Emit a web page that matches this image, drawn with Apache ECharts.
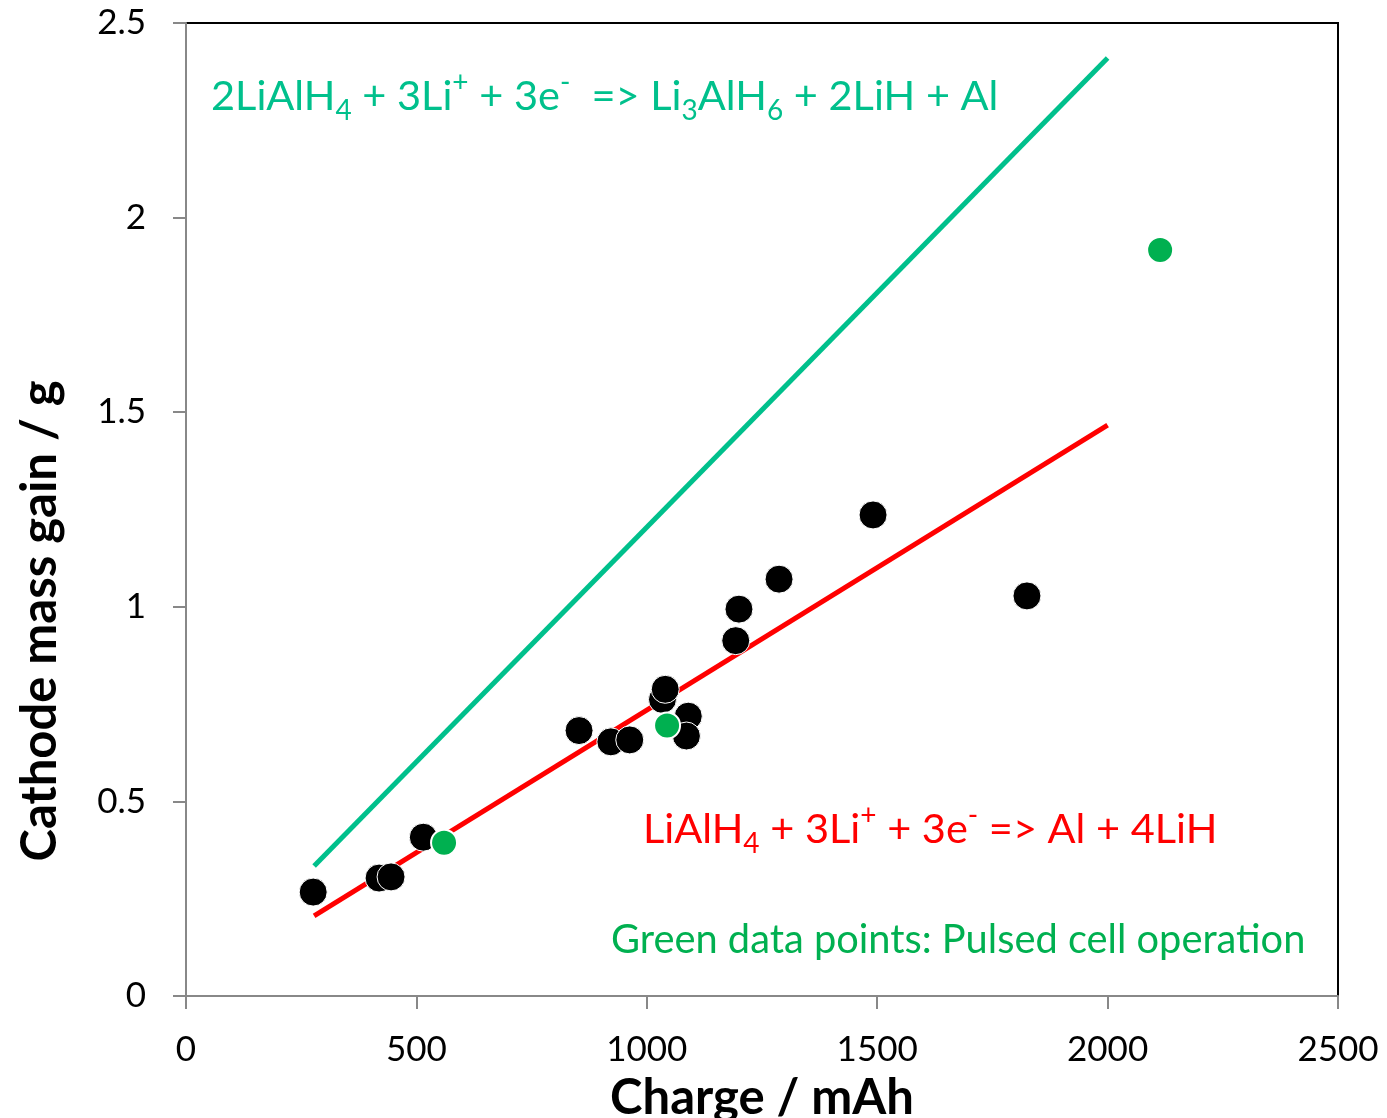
<!DOCTYPE html>
<html><head><meta charset="utf-8">
<script src="https://cdn.jsdelivr.net/npm/echarts@6/dist/echarts.min.js"></script>
<style>html,body{margin:0;padding:0;background:#fff}#c{width:1387px;height:1118px}</style>
</head><body><div id="c"></div>
<script>
// Data (Charge mAh, mass gain g)
const blackPoints = [
  [276, 0.267], [419, 0.303], [445, 0.306], [515, 0.408],
  [853, 0.682], [922, 0.653], [963, 0.658], [1034, 0.762], [1040, 0.788],
  [1090, 0.719], [1086, 0.668], [1193, 0.913], [1200, 0.994], [1287, 1.071],
  [1491, 1.236], [1825, 1.028]
];
const greenPoints = [[560, 0.394], [1044, 0.695], [2114, 1.917]];
const tealLine = [[278, 0.334], [2000, 2.41]];
const redLine = [[278, 0.206], [2000, 1.467]];
const xTicks = [0, 500, 1000, 1500, 2000, 2500];
const yTicks = [0, 0.5, 1, 1.5, 2, 2.5];

const TEAL = '#00C08C', RED = '#FF0000', GREEN = '#00B050';
const FONT = 'Lato';
function richFor(color, size) {
  return {
    n: {fontFamily: FONT, fontSize: size, fill: color, color, lineHeight: 56, verticalAlign: 'middle'},
    sub: {fontFamily: FONT, fontSize: 28, fill: color, color, lineHeight: 12, verticalAlign: 'bottom'},
    sup: {fontFamily: FONT, fontSize: 28, fill: color, color, lineHeight: 45, verticalAlign: 'top'}
  };
}
const chart = echarts.init(document.getElementById('c'));
chart.setOption({
  animation: false,
  backgroundColor: '#fff',
  grid: {left: 186, right: 49, top: 23, bottom: 122, show: true, borderColor: '#000', borderWidth: 2,
    containLabel: false, outerBoundsMode: 'none'},
  xAxis: {
    type: 'value', min: 0, max: 2500, interval: 500,
    name: 'Charge / mAh', nameLocation: 'middle', nameGap: 78,
    nameTextStyle: {fontFamily: FONT, fontWeight: 'bold', fontSize: 49, color: '#000'},
    axisLine: {show: true, lineStyle: {color: '#888', width: 2}},
    axisTick: {show: true, length: 13, lineStyle: {color: '#888', width: 2}},
    axisLabel: {margin: 36, fontFamily: FONT, fontSize: 35, color: '#000',
      formatter: v => xTicks.includes(v) ? String(v) : ''},
    splitLine: {show: false}
  },
  yAxis: {
    type: 'value', min: 0, max: 2.5, interval: 0.5,
    axisLine: {show: true, lineStyle: {color: '#888', width: 2}},
    axisTick: {show: true, length: 13, lineStyle: {color: '#888', width: 2}},
    axisLabel: {margin: 40, fontFamily: FONT, fontSize: 35, color: '#000',
      formatter: v => yTicks.includes(v) ? String(v) : ''},
    splitLine: {show: false}
  },
  series: [
    {type: 'line', data: tealLine, symbol: 'none', lineStyle: {color: TEAL, width: 5}, z: 2},
    {type: 'line', data: redLine, symbol: 'none', lineStyle: {color: RED, width: 5}, z: 2},
    {type: 'scatter', data: blackPoints, symbolSize: 28, itemStyle: {color: '#000', opacity: 1, borderColor: '#fff', borderWidth: 1}, z: 3},
    {type: 'scatter', data: greenPoints, symbolSize: 26, itemStyle: {color: GREEN, opacity: 1, borderColor: '#fff', borderWidth: 2}, z: 4}
  ],
  graphic: [
    {type: 'text', x: 40, y: 621, rotation: Math.PI / 2,
      style: {text: 'Cathode mass gain / g', fontFamily: FONT, fontWeight: 'bold', fontSize: 49, fill: '#000', align: 'center', verticalAlign: 'middle'}},
    {type: 'text', x: 211, y: 97,
      style: {text: '{n|2LiAlH}{sub|4}{n| + 3Li}{sup|+}{n| + 3e}{sup|-}{n|  => Li}{sub|3}{n|AlH}{sub|6}{n| + 2LiH + Al}',
        rich: richFor(TEAL, 41.5), align: 'left', verticalAlign: 'middle'}},
    {type: 'text', x: 643, y: 830,
      style: {text: '{n|LiAlH}{sub|4}{n| + 3Li}{sup|+}{n| + 3e}{sup|-}{n| => Al + 4LiH}',
        rich: richFor(RED, 41.5), align: 'left', verticalAlign: 'middle'}},
    {type: 'text', x: 611, y: 940,
      style: {text: 'Green data points: Pulsed cell operation', fontFamily: FONT, fontSize: 39.8, fill: GREEN, align: 'left', verticalAlign: 'middle'}}
  ]
});
</script></body></html>
